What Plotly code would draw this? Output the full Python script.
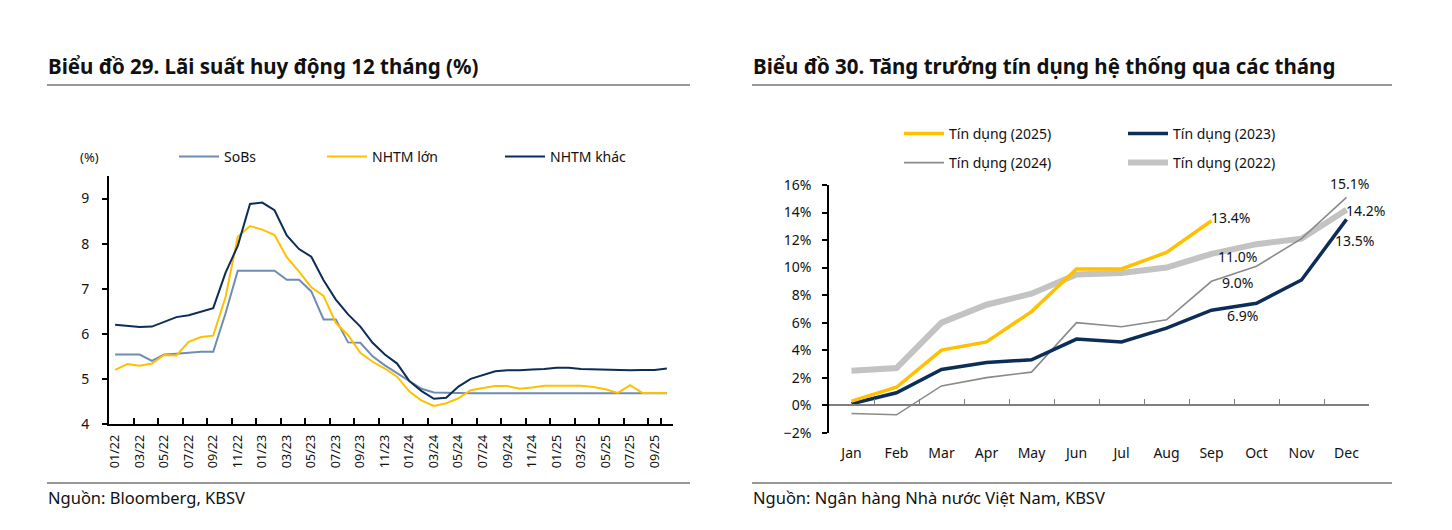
import plotly.graph_objects as go

# ---------------- data ----------------
month_labels = ["01/22", "02/22", "03/22", "04/22", "05/22", "06/22", "07/22", "08/22", "09/22", "10/22", "11/22", "12/22",
                "01/23", "02/23", "03/23", "04/23", "05/23", "06/23", "07/23", "08/23", "09/23", "10/23", "11/23", "12/23",
                "01/24", "02/24", "03/24", "04/24", "05/24", "06/24", "07/24", "08/24", "09/24", "10/24", "11/24", "12/24",
                "01/25", "02/25", "03/25", "04/25", "05/25", "06/25", "07/25", "08/25", "09/25", "10/25"]

sobs = [5.54, 5.54, 5.54, 5.40, 5.54, 5.56, 5.58, 5.60, 5.60, 6.45, 7.40, 7.40,
        7.40, 7.40, 7.20, 7.20, 6.94, 6.32, 6.32, 5.81, 5.80, 5.50, 5.30, 5.13,
        4.95, 4.78, 4.70, 4.69, 4.68, 4.68, 4.68, 4.68, 4.68, 4.68, 4.68, 4.68,
        4.68, 4.68, 4.68, 4.68, 4.68, 4.68, 4.68, 4.68, 4.68, 4.68]

nhtm_lon = [5.20, 5.33, 5.29, 5.34, 5.53, 5.52, 5.82, 5.93, 5.96, 6.81, 8.15, 8.39,
            8.31, 8.19, 7.70, 7.38, 7.03, 6.84, 6.24, 5.97, 5.58, 5.38, 5.23, 5.05,
            4.72, 4.52, 4.40, 4.46, 4.57, 4.75, 4.80, 4.84, 4.84, 4.78, 4.81, 4.85,
            4.85, 4.85, 4.85, 4.82, 4.77, 4.69, 4.86, 4.69, 4.69, 4.69]

nhtm_khac = [6.20, 6.18, 6.15, 6.16, 6.27, 6.37, 6.41, 6.49, 6.57, 7.35, 7.95, 8.88,
             8.91, 8.74, 8.18, 7.88, 7.71, 7.19, 6.76, 6.43, 6.16, 5.80, 5.54, 5.34,
             4.95, 4.73, 4.56, 4.58, 4.83, 5.00, 5.08, 5.17, 5.19, 5.19, 5.21, 5.22,
             5.25, 5.25, 5.22, 5.21, 5.21, 5.19, 5.19, 5.20, 5.20, 5.23]

months_en = ["Jan", "Feb", "Mar", "Apr", "May", "Jun", "Jul", "Aug", "Sep", "Oct", "Nov", "Dec"]
credit_2025 = [0.3, 1.3, 4.0, 4.6, 6.8, 9.9, 9.9, 11.1, 13.4]
credit_2023 = [0.1, 0.9, 2.6, 3.1, 3.3, 4.8, 4.6, 5.6, 6.9, 7.4, 9.1, 13.5]
credit_2024 = [-0.6, -0.7, 1.4, 2.0, 2.4, 6.0, 5.7, 6.2, 9.0, 10.1, 12.1, 15.1]
credit_2022 = [2.5, 2.7, 6.0, 7.3, 8.1, 9.5, 9.6, 10.0, 11.0, 11.7, 12.1, 14.2]

left_title = "Biểu đồ 29. Lãi suất huy động 12 tháng (%)"
right_title = "Biểu đồ 30. Tăng trưởng tín dụng hệ thống qua các tháng"
left_source = "Nguồn: Bloomberg, KBSV"
right_source = "Nguồn: Ngân hàng Nhà nước Việt Nam, KBSV"

# ---------------- styling ----------------
W, H = 1452, 530
OFF = 8  # page body margin compensation
FONT = "Noto Sans"
C_SOBS = "#6F8DB2"
C_YEL = "#FFC000"
C_NAVY = "#0B2D57"
C_G24 = "#8A8A8A"
C_G22 = "#C3C3C3"
TXT = "#111111"


def fx(p):
    return (p - OFF) / W


def fy(p):
    return 1 - (p - OFF) / H


fig = go.Figure()

# left chart traces
fig.add_trace(go.Scatter(x=month_labels, y=sobs, name="SoBs", mode="lines",
                         line=dict(color=C_SOBS, width=2), xaxis="x", yaxis="y", legend="legend"))
fig.add_trace(go.Scatter(x=month_labels, y=nhtm_lon, name="NHTM lớn", mode="lines",
                         line=dict(color=C_YEL, width=2), xaxis="x", yaxis="y", legend="legend2"))
fig.add_trace(go.Scatter(x=month_labels, y=nhtm_khac, name="NHTM khác", mode="lines",
                         line=dict(color=C_NAVY, width=2), xaxis="x", yaxis="y", legend="legend3"))

# right chart traces (drawn bottom to top)
fig.add_trace(go.Scatter(x=months_en, y=credit_2022, name="Tín dụng (2022)", mode="lines",
                         line=dict(color=C_G22, width=6), xaxis="x2", yaxis="y2", legend="legend7"))
fig.add_trace(go.Scatter(x=months_en, y=credit_2024, name="Tín dụng (2024)", mode="lines",
                         line=dict(color=C_G24, width=1.6), xaxis="x2", yaxis="y2", legend="legend6"))
fig.add_trace(go.Scatter(x=months_en, y=credit_2023, name="Tín dụng (2023)", mode="lines",
                         line=dict(color=C_NAVY, width=3.5), xaxis="x2", yaxis="y2", legend="legend5"))
fig.add_trace(go.Scatter(x=months_en[:len(credit_2025)], y=credit_2025, name="Tín dụng (2025)", mode="lines",
                         line=dict(color=C_YEL, width=3.5), xaxis="x2", yaxis="y2", legend="legend4"))

# domains
L_dom_x = [fx(109), fx(673)]
L_dom_y = [fy(424), fy(176)]
R_dom_x = [fx(829), fx(1369)]
R_dom_y = [fy(432.7), fy(185)]
R_yrange = [-2, 16]
zero_pos = R_dom_y[0] + (0 - R_yrange[0]) / (R_yrange[1] - R_yrange[0]) * (R_dom_y[1] - R_dom_y[0])

layout = dict(
    width=W, height=H, margin=dict(l=0, r=0, t=0, b=0, autoexpand=False),
    paper_bgcolor="white", plot_bgcolor="white", showlegend=True,
    font=dict(family=FONT, color=TXT),
    xaxis=dict(domain=L_dom_x, anchor="y", type="category", categoryorder="array", categoryarray=month_labels,
               range=[-0.5, len(month_labels) - 0.5], tickmode="array", tickvals=month_labels[::2],
               ticktext=month_labels[::2], tickson="boundaries", ticks="inside", ticklen=6, tickwidth=1.5,
               tickcolor="black", showline=True, linecolor="black", linewidth=1.8, tickangle=-90,
               tickfont=dict(family=FONT, size=12.5, color=TXT), showgrid=False, zeroline=False,
               ticklabelstandoff=4),
    yaxis=dict(domain=L_dom_y, anchor="x", range=[4, 9.5], tick0=4, dtick=1, ticks="outside", ticklen=5,
               tickwidth=1.5, tickcolor="black", showline=True, linecolor="black", linewidth=1.8,
               showgrid=False, zeroline=False, tickfont=dict(family=FONT, size=14, color=TXT),
               ticklabelstandoff=10),
    xaxis2=dict(domain=R_dom_x, anchor="free", position=zero_pos, type="category", categoryorder="array",
                categoryarray=months_en, range=[-0.5, 11.5], showline=True, linecolor="#7F7F7F", linewidth=1.5,
                ticks="inside", tickson="boundaries", ticklen=5, tickwidth=1.2, tickcolor="#7F7F7F",
                showgrid=False, zeroline=False, tickfont=dict(family=FONT, size=14, color=TXT),
                ticklabelstandoff=35),
    yaxis2=dict(domain=R_dom_y, anchor="x2", range=R_yrange, tick0=0, dtick=2, ticksuffix="%", ticks="outside",
                ticklen=5, tickwidth=1.5, tickcolor="black", showline=True, linecolor="black", linewidth=1.5,
                showgrid=False, zeroline=False, tickfont=dict(family=FONT, size=14, color=TXT),
                ticklabelstandoff=8),
)

leg_font = dict(family=FONT, size=14, color=TXT)


def leg(text_x_px, y_px):
    return dict(x=fx(text_x_px - 48), y=fy(y_px), xanchor="left", yanchor="middle", orientation="h",
                bgcolor="rgba(0,0,0,0)", font=leg_font, itemwidth=40, borderwidth=0, visible=True)


layout["legend"] = leg(222, 157)
layout["legend2"] = leg(370, 157)
layout["legend3"] = leg(548, 157)
layout["legend4"] = leg(947, 134)
layout["legend5"] = leg(1171, 134)
layout["legend6"] = leg(947, 163)
layout["legend7"] = leg(1171, 163)

fig.update_layout(**layout)

annotations = [
    dict(text="<b>" + left_title + "</b>", x=fx(46), y=fy(66), xref="paper", yref="paper", xanchor="left",
         yanchor="middle", showarrow=False, font=dict(family=FONT, size=20.5, color=TXT)),
    dict(text="<b>" + right_title + "</b>", x=fx(751), y=fy(66), xref="paper", yref="paper", xanchor="left",
         yanchor="middle", showarrow=False, font=dict(family=FONT, size=20.5, color=TXT)),
    dict(text=left_source, x=fx(46), y=fy(497), xref="paper", yref="paper", xanchor="left", yanchor="middle",
         showarrow=False, font=dict(family=FONT, size=16.5, color=TXT)),
    dict(text=right_source, x=fx(751), y=fy(497), xref="paper", yref="paper", xanchor="left", yanchor="middle",
         showarrow=False, font=dict(family=FONT, size=16.5, color=TXT)),
    dict(text="(%)", x=fx(89), y=fy(157), xref="paper", yref="paper", xanchor="center", yanchor="middle",
         showarrow=False, font=dict(family=FONT, size=13, color=TXT)),
]

# data labels on the right chart
lab_font = dict(family=FONT, size=14, color=TXT)
label_specs = [
    (credit_2025, 8, "left", -3, 3),
    (credit_2022, 8, "left", 4, -3),
    (credit_2024, 8, "left", 8, -1),
    (credit_2023, 8, "left", 13, -5),
    (credit_2024, 11, "center", 3, 14),
    (credit_2022, 11, "left", -3, -1),
    (credit_2023, 11, "center", 8, -21),
]
for series, idx, xa, xs, ys in label_specs:
    annotations.append(dict(text=f"{series[idx]:.1f}%", x=months_en[idx], y=series[idx], xref="x2", yref="y2",
                            xanchor=xa, yanchor="middle", xshift=xs, yshift=ys, showarrow=False, font=lab_font))

fig.update_layout(annotations=annotations)

line_style = dict(color="#333333", width=1)
shapes = [
    dict(type="line", xref="paper", yref="paper", x0=fx(47), x1=fx(690), y0=fy(85), y1=fy(85), line=line_style),
    dict(type="line", xref="paper", yref="paper", x0=fx(752), x1=fx(1392), y0=fy(85), y1=fy(85), line=line_style),
    dict(type="line", xref="paper", yref="paper", x0=fx(47), x1=fx(690), y0=fy(483), y1=fy(483), line=line_style),
    dict(type="line", xref="paper", yref="paper", x0=fx(752), x1=fx(1392), y0=fy(483), y1=fy(483), line=line_style),
]
fig.update_layout(shapes=shapes)

fig.write_html("out.html")
